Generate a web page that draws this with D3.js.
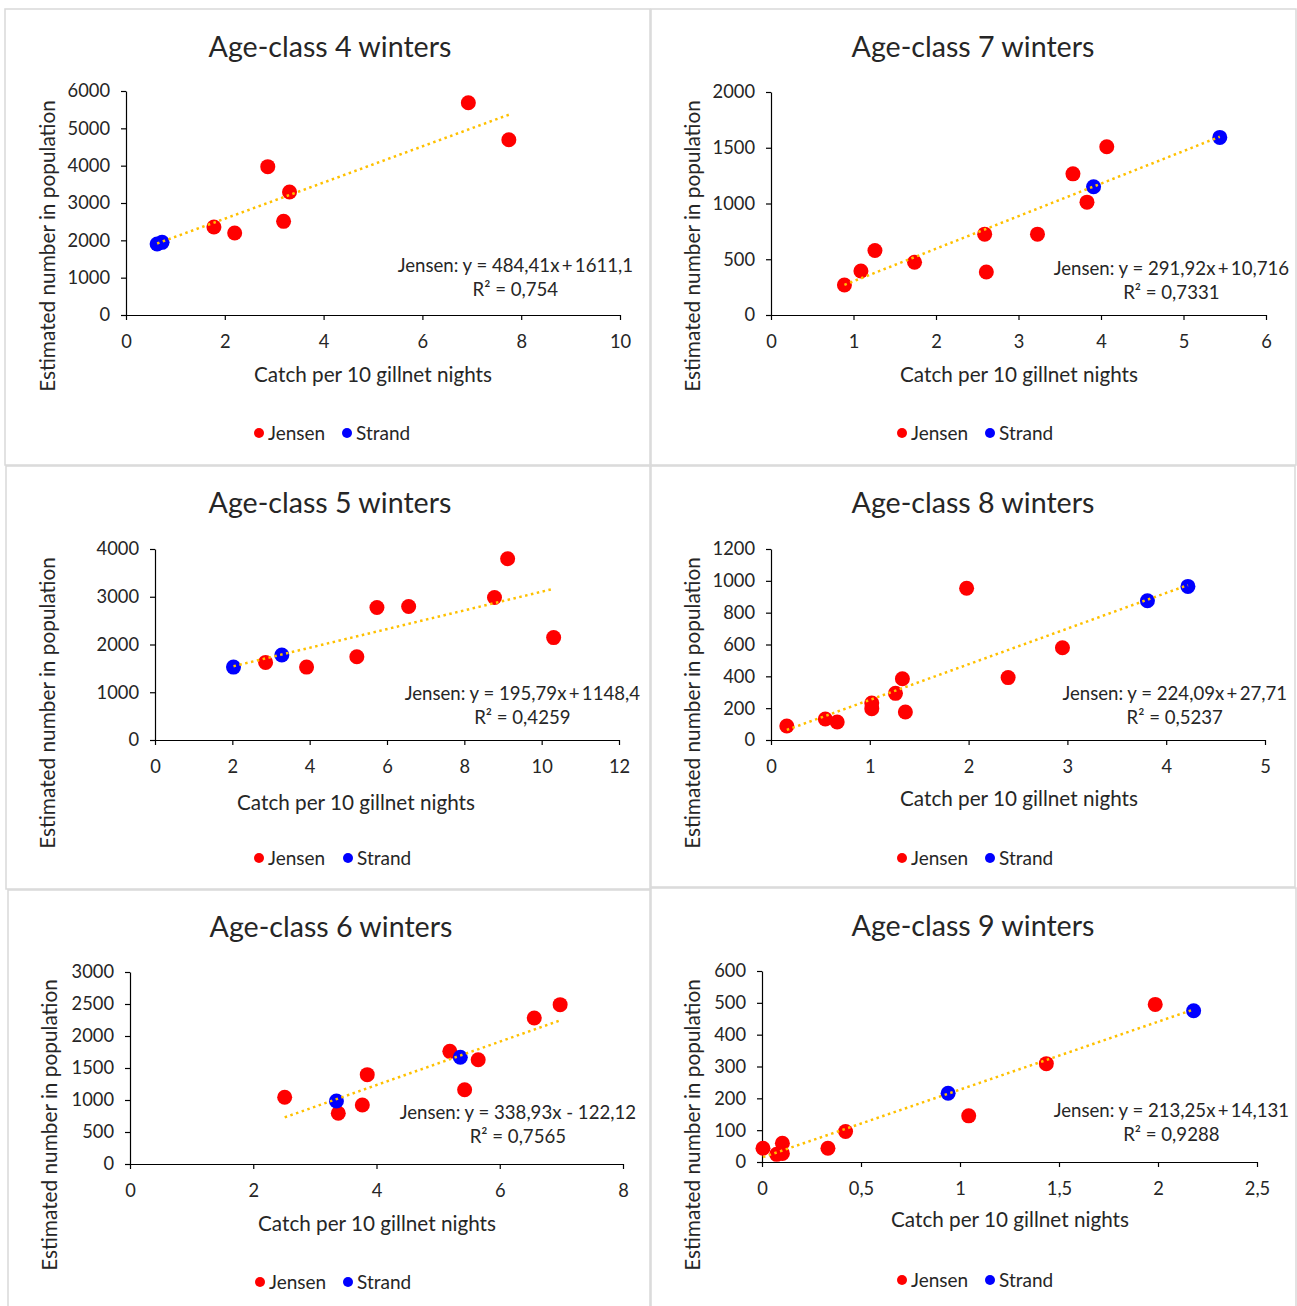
<!DOCTYPE html>
<html>
<head>
<meta charset="utf-8">
<script src="https://cdn.jsdelivr.net/npm/d3@7"></script>
<style>
  body { margin: 0; background: #fff; }
  svg { display: block; font-family: Lato, "Open Sans", sans-serif; }
</style>
</head>
<body>
<svg id="chart" width="1297" height="1306"></svg>
<script>
// panel order: 4, 7, 5, 8, 6, 9 winters (left column then right column per row)
const titles = ["Age-class 4 winters", "Age-class 7 winters", "Age-class 5 winters",
                "Age-class 8 winters", "Age-class 6 winters", "Age-class 9 winters"]

// [catch per 10 gillnet nights, estimated number]
const jensen4 = [[1.78,2357],[2.20,2196],[2.87,3973],[3.31,3295],[3.19,2509],[6.93,5687],[7.75,4696]]
const strand4 = [[0.63,1902],[0.73,1946]]
const jensen7 = [[0.89,269],[1.09,395],[1.26,578],[1.74,473],[2.59,725],[2.61,386],[3.23,725],[3.66,1266],[3.83,1012],[4.07,1509]]
const strand7 = [[3.91,1150],[5.44,1593]]
const jensen5 = [[2.86,1625],[3.92,1527],[5.22,1744],[5.74,2774],[6.56,2795],[8.78,2984],[9.12,3797],[10.31,2144]]
const strand5 = [[2.03,1527],[3.28,1779]]
const jensen8 = [[0.16,88],[0.55,132],[0.67,113],[1.02,232],[1.02,197],[1.26,293],[1.33,385],[1.36,176],[1.98,953],[2.40,392],[2.95,580]]
const strand8 = [[3.81,875],[4.22,965]]
const jensen6 = [[2.51,1042],[3.38,792],[3.77,922],[3.85,1396],[5.19,1760],[5.65,1630],[5.43,1161],[6.56,2281],[6.98,2490]]
const strand6 = [[3.35,984],[5.36,1667]]
const jensen9 = [[0.005,43],[0.074,24],[0.103,59],[0.103,27],[0.333,43],[0.422,96],[1.044,145],[1.436,309],[1.986,495]]
const strand9 = [[0.94,216],[2.18,475]]

const xTicks = [[0,2,4,6,8,10], [0,1,2,3,4,5,6], [0,2,4,6,8,10,12],
                [0,1,2,3,4,5], [0,2,4,6,8], [0,0.5,1,1.5,2,2.5]]
const yTicks = [[0,1000,2000,3000,4000,5000,6000], [0,500,1000,1500,2000], [0,1000,2000,3000,4000],
                [0,200,400,600,800,1000,1200], [0,500,1000,1500,2000,2500,3000], [0,100,200,300,400,500,600]]

// Jensen trendline: slope, intercept, R²
const slopes = [484.41, 291.92, 195.79, 224.09, 338.93, 213.25]
const intercepts = [1611.1, 10.716, 1148.4, 27.71, -122.12, 14.131]
const r2 = [0.754, 0.7331, 0.4259, 0.5237, 0.7565, 0.9288]

const jensen = [jensen4, jensen7, jensen5, jensen8, jensen6, jensen9]
const strand = [strand4, strand7, strand5, strand8, strand6, strand9]

// layout, pixels
const layout = [
  {box:[5,9,650,465],    plot:[126,91,620,315],   title:[330,47],  xt:[373,375],  yt:[48,246],  leg:[259,347,433], eq:[633,265]},
  {box:[651,9,1296,465], plot:[771,92,1266,315],  title:[973,47],  xt:[1019,375], yt:[693,246], leg:[902,990,433], eq:[1289,268]},
  {box:[6,466,650,889],  plot:[155,549,619,740],  title:[330,503], xt:[356,803],  yt:[48,703],  leg:[259,348,858], eq:[640,693]},
  {box:[651,466,1295,887], plot:[771,549,1265,740], title:[973,503], xt:[1019,799], yt:[693,703], leg:[902,990,858], eq:[1287,693]},
  {box:[8,890,650,1320], plot:[130,972,623,1164], title:[331,927], xt:[377,1224], yt:[50,1125], leg:[260,348,1282], eq:[636,1112]},
  {box:[651,888,1296,1320], plot:[762,971,1257,1162], title:[973,926], xt:[1010,1220], yt:[693,1125], leg:[902,990,1280], eq:[1289,1110]}
]

const red = "#ff0000", blue = "#0000ff", trendColor = "#ffc000", ink = "#262626"
const comma = v => String(v).replace(".", ",")

const svg = d3.select("#chart")

titles.forEach((title, i) => {
  const L = layout[i]
  const [left, top, right, bottom] = L.plot
  const g = svg.append("g").attr("class", "panel")

  g.append("rect")
    .attr("x", L.box[0]).attr("y", L.box[1])
    .attr("width", L.box[2] - L.box[0]).attr("height", L.box[3] - L.box[1])
    .attr("fill", "none").attr("stroke", "#d9d9d9").attr("stroke-width", 1.5)

  const xTs = xTicks[i], yTs = yTicks[i]
  const x = d3.scaleLinear().domain([xTs[0], xTs[xTs.length - 1]]).range([left, right])
  const y = d3.scaleLinear().domain([yTs[0], yTs[yTs.length - 1]]).range([bottom, top])

  const gx = g.append("g")
    .attr("transform", `translate(0,${bottom})`)
    .call(d3.axisBottom(x).tickValues(xTs).tickSize(5).tickSizeOuter(0).tickPadding(15).tickFormat(comma))
  const gy = g.append("g")
    .attr("transform", `translate(${left},0)`)
    .call(d3.axisLeft(y).tickValues(yTs).tickSize(5).tickSizeOuter(0).tickPadding(11).tickFormat(d => d))
  ;[gx, gy].forEach(a => {
    a.select(".domain").attr("stroke", "#000").attr("stroke-width", 1.2)
    a.selectAll(".tick line").attr("stroke", "#000").attr("stroke-width", 1.2)
    a.selectAll(".tick text").attr("fill", ink).attr("font-size", 18.3).attr("font-family", "Lato")
  })

  g.append("text")
    .attr("x", L.title[0]).attr("y", L.title[1]).attr("dy", "0.35em")
    .attr("text-anchor", "middle").attr("font-size", 28.6).attr("fill", ink)
    .text(title)

  g.append("text")
    .attr("x", L.xt[0]).attr("y", L.xt[1]).attr("dy", "0.35em")
    .attr("text-anchor", "middle").attr("font-size", 20.7).attr("fill", ink)
    .text("Catch per 10 gillnet nights")

  g.append("text")
    .attr("transform", `translate(${L.yt[0]},${L.yt[1]}) rotate(-90)`)
    .attr("dy", "0.35em")
    .attr("text-anchor", "middle").attr("font-size", 20.8).attr("fill", ink)
    .text("Estimated number in population")

  g.selectAll(".jensen")
    .data(jensen[i])
    .enter().append("circle")
    .attr("class", "jensen")
    .attr("cx", d => x(d[0])).attr("cy", d => y(d[1]))
    .attr("r", 7.5).attr("fill", red)

  g.selectAll(".strand")
    .data(strand[i])
    .enter().append("circle")
    .attr("class", "strand")
    .attr("cx", d => x(d[0])).attr("cy", d => y(d[1]))
    .attr("r", 7.5).attr("fill", blue)

  const allX = jensen[i].concat(strand[i]).map(d => d[0])
  const [x0, x1] = d3.extent(allX)
  const fit = v => slopes[i] * v + intercepts[i]
  g.append("line")
    .attr("x1", x(x0)).attr("y1", y(fit(x0)))
    .attr("x2", x(x1)).attr("y2", y(fit(x1)))
    .attr("stroke", trendColor).attr("stroke-width", 2.5)
    .attr("stroke-dasharray", "2.5,3.5")

  const b = intercepts[i]
  const eqText = `Jensen: y = ${comma(slopes[i])}x${b < 0 ? " - " : "\u2009+\u2009"}${comma(Math.abs(b))}`
  const eq = g.append("text")
    .attr("x", L.eq[0]).attr("y", L.eq[1]).attr("dy", "0.35em")
    .attr("text-anchor", "end").attr("font-size", 18.6).attr("fill", ink)
    .text(eqText)
  const eqW = eq.node().getComputedTextLength()
  g.append("text")
    .attr("x", L.eq[0] - eqW / 2).attr("y", L.eq[1] + 24).attr("dy", "0.35em")
    .attr("text-anchor", "middle").attr("font-size", 18.6).attr("fill", ink)
    .text(`R² = ${comma(r2[i])}`)

  const legend = g.append("g")
  ;[["Jensen", red, L.leg[0]], ["Strand", blue, L.leg[1]]].forEach(([name, col, lx]) => {
    legend.append("circle").attr("cx", lx).attr("cy", L.leg[2]).attr("r", 5).attr("fill", col)
    legend.append("text").attr("x", lx + 9).attr("y", L.leg[2]).attr("dy", "0.35em")
      .attr("font-size", 19).attr("fill", ink).text(name)
  })
})
</script>
</body>
</html>
